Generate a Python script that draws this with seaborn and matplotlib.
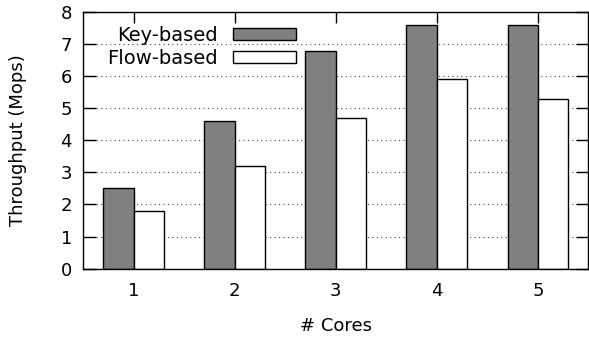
import pandas as pd
import matplotlib
matplotlib.use('Agg')
import matplotlib.pyplot as plt
import seaborn as sns

# datos
cores = ['1', '2', '3', '4', '5']
key_based = [2.5, 4.6, 6.8, 7.6, 7.6]
flow_based = [1.8, 3.2, 4.7, 5.9, 5.3]

df = pd.DataFrame({
    'Cores': cores * 2,
    'Throughput': key_based + flow_based,
    'Metodo': ['Key-based'] * len(cores) + ['Flow-based'] * len(cores),
})

sns.set_style('white')
plt.rcParams['font.family'] = ['DejaVu Sans']
plt.rcParams['text.color'] = 'black'
plt.rcParams['axes.labelcolor'] = 'black'
plt.rcParams['xtick.color'] = 'black'
plt.rcParams['ytick.color'] = 'black'

fig = plt.figure(figsize=(5.89, 3.37), dpi=100)
ax = fig.add_axes([0.141, 0.203, 0.858, 0.761])

sns.barplot(data=df, x='Cores', y='Throughput', hue='Metodo', order=cores,
            hue_order=['Key-based', 'Flow-based'],
            palette={'Key-based': '#808080', 'Flow-based': 'white'},
            width=0.6, edgecolor='black', linewidth=1, saturation=1,
            errorbar=None, ax=ax)

ax.set_xlim(-0.5, 4.5)
ax.set_ylim(0, 8)
ax.set_yticks(range(0, 9))

# rejilla punteada detras de las barras
ax.set_axisbelow(True)
ax.yaxis.grid(True, linestyle=(0, (1, 3)), color='#444444', linewidth=0.8)

for s in ax.spines.values():
    s.set_color('black')
    s.set_linewidth(1)

ax.tick_params(axis='y', direction='in', left=True, right=True, length=9,
               width=1, labelsize=13, pad=8)
ax.tick_params(axis='x', direction='in', bottom=True, top=True, length=8,
               width=1, labelsize=13, pad=10)

ax.set_xlabel('# Cores', fontsize=13, labelpad=12)
ax.set_ylabel('Throughput (Mops)', fontsize=13, labelpad=24)

handles, labels = ax.get_legend_handles_labels()
ax.legend(handles, labels, loc='upper right', bbox_to_anchor=(0.44, 0.985),
          markerfirst=False, frameon=False, fontsize=14, handlelength=3.2,
          handleheight=0.55, handletextpad=0.8, labelspacing=0.2,
          borderpad=0.3, borderaxespad=0.2)

fig.savefig('out.png', dpi=100)
